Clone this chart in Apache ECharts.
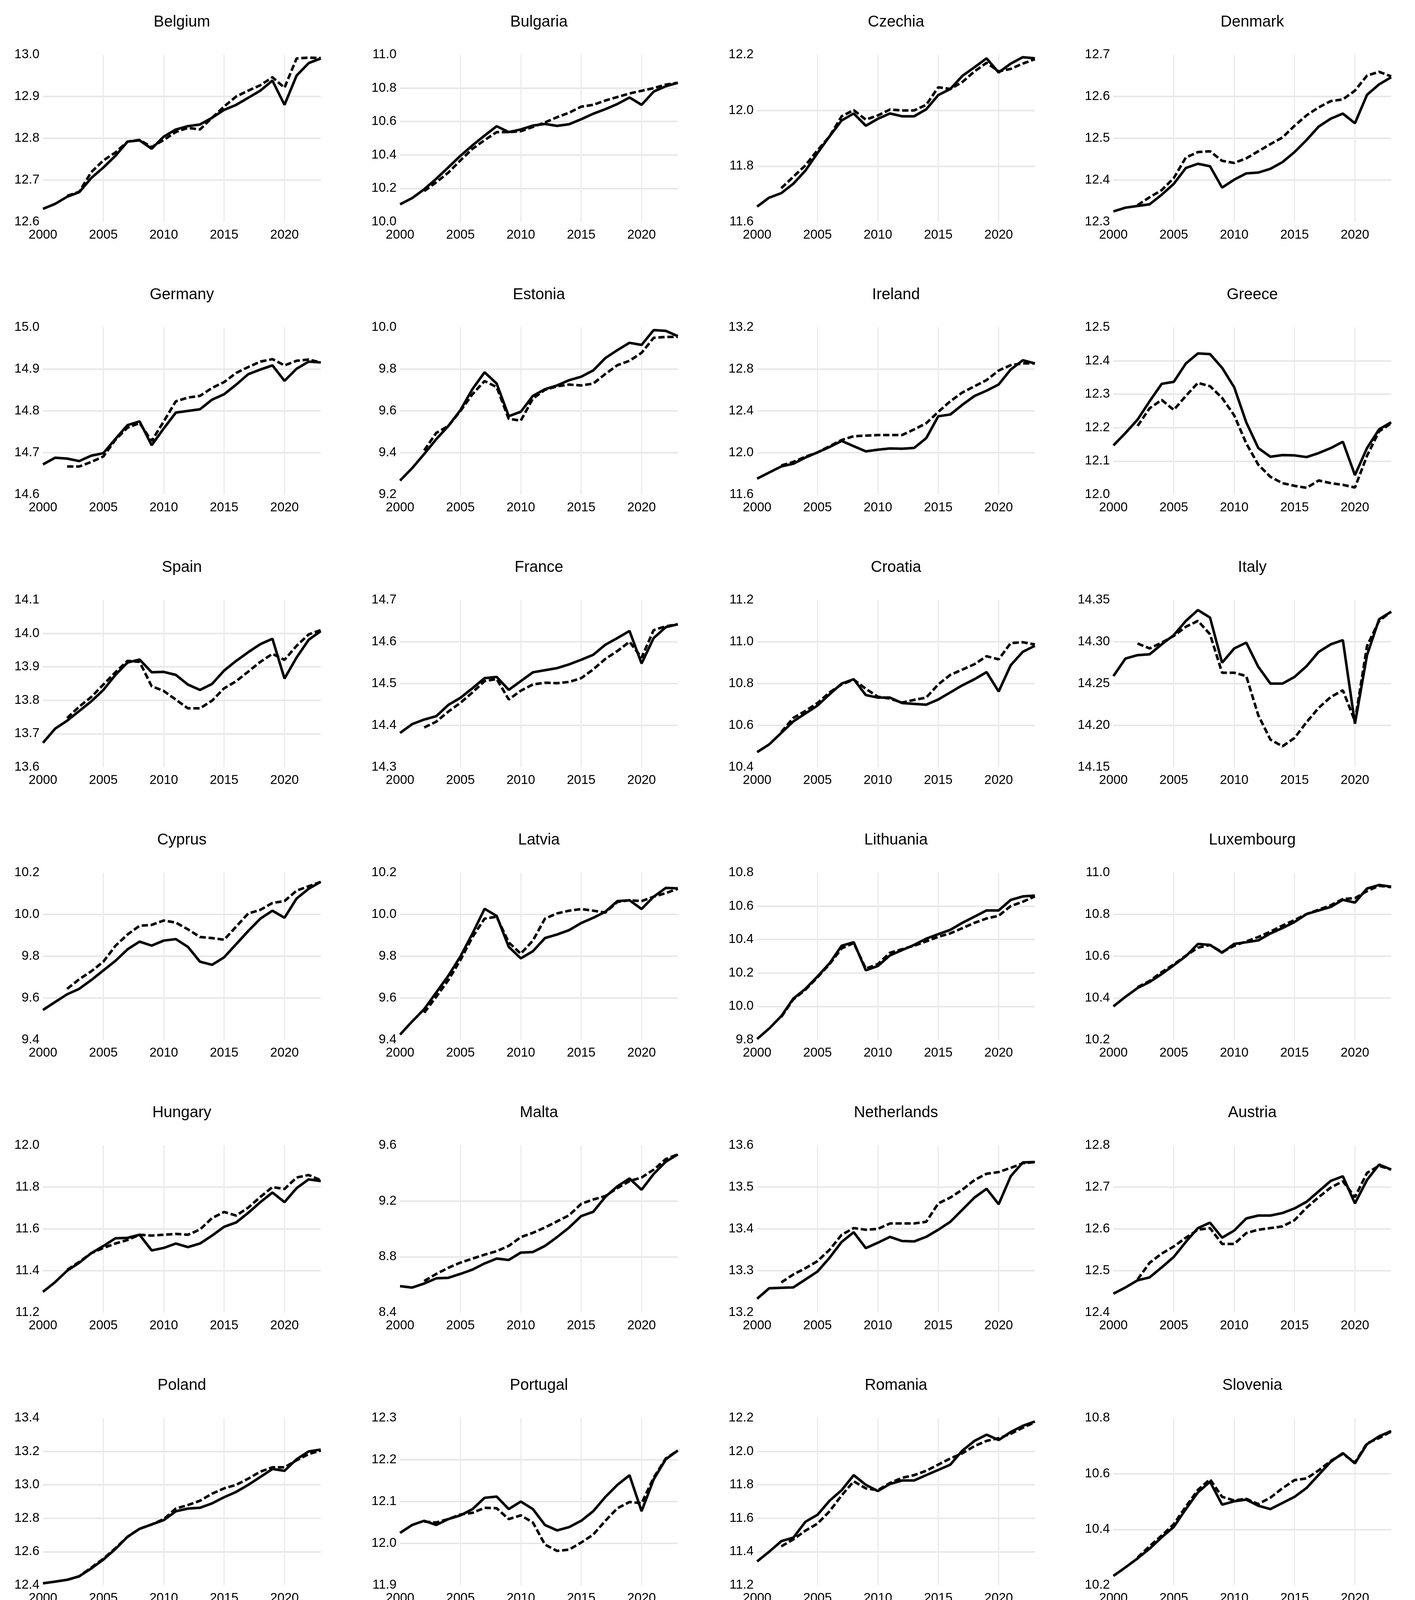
<!DOCTYPE html>
<html><head><meta charset="utf-8">
<script src="https://cdn.jsdelivr.net/npm/echarts@6.0.0/dist/echarts.min.js"></script>
<style>html,body{margin:0;padding:0;background:#fff}#c{width:3622px;height:4989px}</style>
</head><body><div id="c"></div>
<script>
// ---------------- DATA ----------------
const years = [2000,2001,2002,2003,2004,2005,2006,2007,2008,2009,2010,2011,2012,2013,2014,2015,2016,2017,2018,2019,2020,2021,2022,2023];
const countries = ['Belgium','Bulgaria','Czechia','Denmark','Germany','Estonia','Ireland','Greece','Spain','France','Croatia','Italy','Cyprus','Latvia','Lithuania','Luxembourg','Hungary','Malta','Netherlands','Austria','Poland','Portugal','Romania','Slovenia','Slovakia','Finland','Sweden'];
const yMin  = [12.6,10.0,11.6,12.3,14.6,9.2,11.6,12.0,13.6,14.3,10.4,14.15,9.4,9.4,9.8,10.2,11.2,8.4,13.2,12.4,12.4,11.9,11.2,10.2,10.6,11.9,12.6];
const yMax  = [13.0,11.0,12.2,12.7,15.0,10.0,13.2,12.5,14.1,14.7,11.2,14.35,10.2,10.2,10.8,11.0,12.0,9.6,13.6,12.8,13.4,12.3,12.2,10.8,11.6,12.3,13.2];
const yStep = [0.1,0.2,0.2,0.1,0.1,0.2,0.4,0.1,0.1,0.1,0.2,0.05,0.2,0.2,0.2,0.2,0.2,0.4,0.1,0.1,0.2,0.1,0.2,0.2,0.2,0.1,0.2];

const belgiumGdp  = [12.631,12.643,12.660,12.671,12.705,12.730,12.758,12.792,12.795,12.775,12.804,12.821,12.829,12.833,12.849,12.868,12.880,12.897,12.914,12.938,12.880,12.950,12.980,12.991];
const belgiumArdl = [null,null,12.662,12.672,12.719,12.747,12.766,12.792,12.796,12.779,12.796,12.815,12.825,12.821,12.849,12.876,12.900,12.914,12.927,12.946,12.921,12.991,12.993,12.992];
const bulgariaGdp  = [10.105,10.142,10.195,10.258,10.326,10.395,10.458,10.516,10.572,10.537,10.553,10.576,10.586,10.574,10.584,10.614,10.647,10.674,10.705,10.744,10.700,10.779,10.811,10.832];
const bulgariaArdl = [null,null,10.184,10.237,10.295,10.368,10.437,10.489,10.537,10.537,10.542,10.568,10.595,10.626,10.653,10.689,10.700,10.726,10.747,10.768,10.784,10.800,10.821,10.832];
const czechiaGdp  = [11.655,11.687,11.703,11.737,11.784,11.847,11.907,11.964,11.989,11.945,11.970,11.989,11.979,11.979,12.004,12.055,12.077,12.124,12.155,12.187,12.136,12.168,12.191,12.187];
const czechiaArdl = [null,null,11.721,11.762,11.803,11.857,11.907,11.979,12.001,11.967,11.982,12.003,12.000,12.000,12.020,12.083,12.077,12.102,12.140,12.171,12.140,12.149,12.168,12.184];
const denmarkGdp  = [12.325,12.334,12.338,12.342,12.365,12.391,12.429,12.439,12.433,12.382,12.401,12.416,12.418,12.427,12.443,12.467,12.496,12.528,12.547,12.559,12.536,12.604,12.629,12.646];
const denmarkArdl = [null,null,12.340,12.359,12.376,12.405,12.454,12.467,12.469,12.446,12.441,12.452,12.469,12.486,12.502,12.530,12.555,12.574,12.589,12.593,12.614,12.650,12.659,12.648];
const germanyGdp  = [14.672,14.688,14.686,14.680,14.693,14.699,14.733,14.766,14.775,14.718,14.758,14.796,14.800,14.804,14.827,14.840,14.863,14.888,14.899,14.909,14.872,14.901,14.918,14.916];
const germanyArdl = [null,null,14.667,14.667,14.678,14.691,14.731,14.760,14.771,14.728,14.775,14.823,14.832,14.836,14.855,14.869,14.891,14.905,14.918,14.924,14.909,14.920,14.923,14.916];
const estoniaGdp  = [9.267,9.326,9.394,9.465,9.528,9.604,9.705,9.785,9.731,9.575,9.596,9.672,9.704,9.722,9.747,9.764,9.794,9.853,9.891,9.926,9.916,9.987,9.983,9.958];
const estoniaArdl = [null,null,9.411,9.495,9.528,9.600,9.680,9.743,9.714,9.562,9.554,9.659,9.701,9.718,9.726,9.722,9.731,9.777,9.819,9.840,9.878,9.950,9.954,9.954];
const irelandGdp  = [11.752,11.811,11.869,11.895,11.954,12.003,12.055,12.113,12.063,12.013,12.029,12.041,12.038,12.046,12.139,12.349,12.366,12.459,12.543,12.594,12.653,12.796,12.885,12.855];
const irelandArdl = [null,null,11.878,11.912,11.962,12.003,12.063,12.122,12.158,12.164,12.169,12.169,12.169,12.223,12.282,12.391,12.493,12.577,12.636,12.695,12.787,12.838,12.855,12.855];
const greeceGdp  = [12.147,12.184,12.224,12.279,12.331,12.337,12.392,12.422,12.420,12.379,12.321,12.216,12.139,12.113,12.118,12.117,12.112,12.124,12.139,12.158,12.058,12.139,12.195,12.216];
const greeceArdl = [null,null,12.205,12.258,12.283,12.253,12.295,12.334,12.324,12.289,12.237,12.153,12.089,12.053,12.034,12.026,12.020,12.042,12.034,12.029,12.021,12.116,12.189,12.213];
const spainGdp  = [13.673,13.715,13.739,13.768,13.797,13.831,13.876,13.913,13.922,13.884,13.885,13.876,13.847,13.831,13.849,13.889,13.918,13.944,13.968,13.984,13.865,13.928,13.981,14.007];
const spainArdl = [null,null,13.747,13.781,13.810,13.847,13.884,13.918,13.915,13.842,13.828,13.802,13.776,13.776,13.799,13.836,13.857,13.886,13.915,13.939,13.921,13.963,13.997,14.010];
const franceGdp  = [14.382,14.403,14.414,14.422,14.449,14.466,14.489,14.513,14.516,14.485,14.506,14.527,14.532,14.537,14.546,14.557,14.569,14.593,14.609,14.626,14.548,14.609,14.635,14.642];
const franceArdl = [null,null,14.395,14.409,14.433,14.454,14.479,14.506,14.511,14.462,14.483,14.498,14.502,14.501,14.504,14.513,14.534,14.559,14.578,14.600,14.562,14.628,14.637,14.642];
const croatiaGdp  = [10.472,10.509,10.564,10.619,10.657,10.695,10.749,10.800,10.821,10.745,10.733,10.733,10.707,10.703,10.699,10.724,10.758,10.792,10.821,10.855,10.762,10.888,10.952,10.981];
const croatiaArdl = [null,null,10.568,10.636,10.669,10.707,10.758,10.796,10.819,10.775,10.737,10.728,10.709,10.722,10.733,10.796,10.842,10.867,10.893,10.931,10.916,10.994,10.998,10.987];
const italyGdp  = [14.259,14.280,14.284,14.285,14.297,14.308,14.325,14.338,14.329,14.275,14.292,14.299,14.270,14.250,14.250,14.258,14.271,14.288,14.297,14.302,14.202,14.284,14.327,14.336];
const italyArdl = [null,null,14.298,14.292,14.299,14.307,14.318,14.325,14.309,14.263,14.263,14.259,14.212,14.183,14.175,14.185,14.204,14.221,14.234,14.242,14.205,14.295,14.325,14.336];
const cyprusGdp  = [9.543,9.581,9.618,9.644,9.686,9.732,9.778,9.833,9.870,9.851,9.875,9.882,9.845,9.774,9.759,9.795,9.858,9.921,9.980,10.018,9.984,10.076,10.123,10.156];
const cyprusArdl = [null,null,9.644,9.690,9.728,9.774,9.850,9.904,9.946,9.950,9.971,9.961,9.929,9.892,9.887,9.879,9.942,10.005,10.022,10.055,10.064,10.114,10.135,10.156];
const latviaGdp  = [9.425,9.488,9.547,9.627,9.707,9.799,9.909,10.027,9.993,9.845,9.790,9.824,9.887,9.904,9.925,9.959,9.984,10.013,10.064,10.068,10.026,10.085,10.127,10.125];
const latviaArdl = [null,null,9.530,9.606,9.686,9.782,9.892,9.980,9.989,9.866,9.812,9.875,9.980,10.005,10.018,10.026,10.018,10.009,10.060,10.068,10.064,10.085,10.102,10.123];
const lithuaniaGdp  = [9.805,9.868,9.942,10.047,10.105,10.179,10.258,10.363,10.384,10.216,10.242,10.305,10.337,10.368,10.405,10.432,10.458,10.500,10.537,10.574,10.574,10.637,10.658,10.663];
const lithuaniaArdl = [null,null,9.937,10.042,10.100,10.174,10.253,10.347,10.379,10.226,10.253,10.321,10.342,10.363,10.389,10.416,10.437,10.468,10.500,10.526,10.542,10.600,10.626,10.658];
const luxembourgGdp  = [10.360,10.406,10.448,10.477,10.515,10.557,10.600,10.659,10.654,10.617,10.659,10.667,10.676,10.709,10.735,10.764,10.802,10.819,10.836,10.870,10.857,10.924,10.941,10.933];
const luxembourgArdl = [null,null,10.452,10.482,10.524,10.561,10.603,10.641,10.654,10.620,10.650,10.671,10.692,10.718,10.747,10.773,10.802,10.823,10.844,10.874,10.878,10.912,10.937,10.931];
const hungaryGdp  = [11.299,11.345,11.400,11.438,11.484,11.518,11.555,11.557,11.572,11.497,11.509,11.530,11.513,11.530,11.568,11.610,11.631,11.677,11.728,11.774,11.728,11.795,11.837,11.829];
const hungaryArdl = [null,null,11.404,11.442,11.484,11.509,11.530,11.547,11.572,11.568,11.572,11.576,11.572,11.597,11.652,11.681,11.664,11.702,11.753,11.800,11.791,11.846,11.858,11.833];
const maltaGdp  = [8.589,8.579,8.608,8.645,8.649,8.677,8.708,8.752,8.787,8.777,8.830,8.834,8.878,8.941,9.010,9.092,9.123,9.230,9.306,9.362,9.281,9.394,9.482,9.535];
const maltaArdl = [null,null,8.626,8.677,8.721,8.758,8.787,8.815,8.840,8.878,8.941,8.972,9.010,9.054,9.098,9.180,9.211,9.236,9.293,9.343,9.369,9.425,9.501,9.535];
const netherlandsGdp  = [13.233,13.258,13.259,13.260,13.279,13.298,13.331,13.369,13.392,13.354,13.367,13.381,13.371,13.370,13.381,13.398,13.417,13.446,13.475,13.496,13.459,13.526,13.559,13.560];
const netherlandsArdl = [null,null,13.272,13.291,13.306,13.323,13.350,13.386,13.402,13.398,13.400,13.413,13.413,13.413,13.417,13.461,13.475,13.494,13.517,13.532,13.536,13.546,13.557,13.560];
const austriaGdp  = [12.445,12.460,12.477,12.484,12.508,12.533,12.569,12.602,12.615,12.579,12.596,12.625,12.632,12.632,12.638,12.649,12.665,12.690,12.715,12.726,12.661,12.717,12.754,12.742];
const austriaArdl = [null,null,12.479,12.519,12.541,12.558,12.579,12.598,12.602,12.564,12.564,12.590,12.598,12.602,12.606,12.621,12.651,12.676,12.699,12.714,12.676,12.734,12.751,12.742];
const polandGdp  = [12.411,12.421,12.432,12.453,12.500,12.553,12.616,12.689,12.737,12.763,12.789,12.842,12.858,12.863,12.889,12.926,12.958,13.000,13.047,13.095,13.084,13.153,13.200,13.211];
const polandArdl = [null,null,12.432,12.453,12.505,12.558,12.621,12.689,12.737,12.763,12.795,12.858,12.879,12.905,12.947,12.979,13.000,13.037,13.079,13.105,13.105,13.147,13.184,13.205];
const portugalGdp  = [12.025,12.044,12.054,12.044,12.058,12.067,12.082,12.109,12.112,12.082,12.100,12.082,12.044,12.031,12.039,12.054,12.077,12.111,12.140,12.163,12.077,12.153,12.201,12.222];
const portugalArdl = [null,null,12.052,12.050,12.058,12.069,12.073,12.085,12.084,12.058,12.067,12.050,11.997,11.982,11.985,12.002,12.021,12.054,12.084,12.099,12.096,12.157,12.203,12.222];
const romaniaGdp  = [11.342,11.400,11.463,11.484,11.579,11.621,11.705,11.768,11.858,11.800,11.763,11.805,11.826,11.826,11.858,11.889,11.921,12.005,12.063,12.100,12.068,12.116,12.153,12.179];
const romaniaArdl = [null,null,11.432,11.474,11.526,11.568,11.642,11.737,11.821,11.779,11.768,11.811,11.842,11.858,11.884,11.921,11.958,11.989,12.032,12.063,12.079,12.105,12.142,12.174];
const sloveniaGdp  = [10.233,10.264,10.296,10.331,10.372,10.409,10.473,10.533,10.571,10.489,10.501,10.507,10.485,10.473,10.495,10.517,10.549,10.596,10.643,10.674,10.637,10.706,10.734,10.753];
const sloveniaArdl = [null,null,10.299,10.340,10.378,10.419,10.482,10.542,10.580,10.517,10.504,10.510,10.491,10.514,10.548,10.577,10.583,10.612,10.646,10.671,10.640,10.709,10.728,10.751];
const slovakiaGdp  = [10.644,10.675,10.711,10.758,10.813,10.868,10.946,11.071,11.128,11.071,11.133,11.165,11.177,11.191,11.213,11.260,11.281,11.306,11.342,11.369,11.336,11.378,11.399,11.415];
const slovakiaArdl = [null,null,10.743,10.784,10.836,10.904,10.978,11.066,11.107,11.081,11.122,11.159,11.165,11.185,11.212,11.280,11.290,11.311,11.342,11.358,11.332,11.364,11.384,11.410];
const finlandGdp  = [11.967,11.996,12.013,12.031,12.071,12.098,12.138,12.190,12.196,12.110,12.140,12.169,12.154,12.146,12.141,12.148,12.175,12.206,12.217,12.229,12.208,12.238,12.250,12.235];
const finlandArdl = [null,null,11.990,12.021,12.052,12.069,12.077,12.123,12.121,12.052,12.071,12.094,12.096,12.079,12.077,12.088,12.154,12.190,12.202,12.203,12.204,12.233,12.246,12.236];
const swedenGdp  = [12.619,12.631,12.650,12.672,12.694,12.729,12.776,12.823,12.820,12.779,12.836,12.865,12.861,12.874,12.899,12.940,12.959,12.981,13.003,13.022,13.003,13.063,13.101,13.091];
const swedenArdl = [null,null,12.653,12.676,12.701,12.736,12.786,12.827,12.830,12.789,12.833,12.861,12.865,12.877,12.906,12.962,12.991,13.016,13.028,13.028,13.031,13.069,13.097,13.091];

const meanTickLabels = ['00','01','02','03','04','05','06','07','08','09','10','11','12','13','14','15','16','17','18','19','20','21','22','23'];
const meanGdp  = [11.604,11.632,11.663,11.694,11.735,11.776,11.828,11.878,11.891,11.836,11.853,11.868,11.867,11.868,11.891,11.925,11.950,11.994,12.022,12.051,12.005,12.076,12.112,12.118];
const meanArdl = [null,null,11.666,11.702,11.740,11.781,11.825,11.871,11.889,11.850,11.856,11.876,11.878,11.889,11.909,11.940,11.963,11.996,12.017,12.040,12.040,12.089,12.111,12.118];

const gdpList  = [belgiumGdp,bulgariaGdp,czechiaGdp,denmarkGdp,germanyGdp,estoniaGdp,irelandGdp,greeceGdp,spainGdp,franceGdp,croatiaGdp,italyGdp,cyprusGdp,latviaGdp,lithuaniaGdp,luxembourgGdp,hungaryGdp,maltaGdp,netherlandsGdp,austriaGdp,polandGdp,portugalGdp,romaniaGdp,sloveniaGdp,slovakiaGdp,finlandGdp,swedenGdp];
const ardlList = [belgiumArdl,bulgariaArdl,czechiaArdl,denmarkArdl,germanyArdl,estoniaArdl,irelandArdl,greeceArdl,spainArdl,franceArdl,croatiaArdl,italyArdl,cyprusArdl,latviaArdl,lithuaniaArdl,luxembourgArdl,hungaryArdl,maltaArdl,netherlandsArdl,austriaArdl,polandArdl,portugalArdl,romaniaArdl,sloveniaArdl,slovakiaArdl,finlandArdl,swedenArdl];

// ---------------- LAYOUT ----------------
const COL_LEFT = [110, 1024, 1938, 2850];
const ROW_TOP = [140, 838, 1536, 2234, 2932, 3630, 4328];
const PW = 711, PH = 428;
const FONT = "'Liberation Sans', Arial, sans-serif";
const NARROW = "'DejaVu Sans Condensed', 'Roboto Condensed', 'Liberation Sans', sans-serif";
const GRID_H = '#e8e8e8', GRID_V = '#ebebeb';

function pairs(arr) {
  const out = [];
  years.forEach((y, j) => { if (arr[j] !== null) out.push([y, arr[j]]); });
  return out;
}

const grid = [], xAxis = [], yAxis = [], series = [], title = [];
countries.forEach((name, i) => {
  const r = Math.floor(i / 4), c = i % 4;
  const left = COL_LEFT[c], top = ROW_TOP[r];
  const dec = yStep[i] < 0.1 ? 2 : 1;
  grid.push({ left, top, width: PW, height: PH, containLabel: false });
  xAxis.push({
    type: 'value', gridIndex: i, min: years[0], max: years[years.length - 1], interval: 5,
    axisLine: { show: false }, axisTick: { show: false },
    axisLabel: { showMaxLabel: false, margin: 17, fontSize: 33, color: '#000', fontFamily: FONT, formatter: v => String(v) },
    splitLine: { show: true, showMinLine: false, showMaxLine: false, lineStyle: { color: GRID_V, width: 3 } }
  });
  yAxis.push({
    type: 'value', gridIndex: i, min: yMin[i], max: yMax[i], interval: yStep[i],
    axisLine: { show: false }, axisTick: { show: false },
    axisLabel: { margin: 9, fontSize: 33, color: '#000', fontFamily: FONT, formatter: v => v.toFixed(dec) },
    splitLine: { show: true, showMinLine: false, showMaxLine: false, lineStyle: { color: GRID_H, width: 4 } }
  });
  series.push({
    name: 'LN_GDP', type: 'line', xAxisIndex: i, yAxisIndex: i, data: pairs(gdpList[i]),
    symbol: 'none', silent: true, z: 3,
    lineStyle: { color: '#000', width: 6.5, type: 'solid' }, itemStyle: { color: '#000' }
  });
  series.push({
    name: 'LN_GDPF_ARDL', type: 'line', xAxisIndex: i, yAxisIndex: i, data: pairs(ardlList[i]),
    symbol: 'none', silent: true, z: 2,
    lineStyle: { color: '#000', width: 6.5, type: [16, 7] }, itemStyle: { color: '#000' }
  });
  title.push({
    text: name, left: left + PW / 2, top: top - 103, textAlign: 'center', padding: 0,
    textStyle: { fontSize: 40, fontWeight: 'normal', color: '#000', fontFamily: FONT }
  });
});

// Mean panel
const mi = countries.length;
const M_LEFT = 2713, M_TOP = 4251, M_W = 841, M_H = 552;
grid.push({ left: M_LEFT, top: M_TOP, width: M_W, height: M_H, containLabel: false });
xAxis.push({
  type: 'category', gridIndex: mi, data: meanTickLabels, boundaryGap: true,
  axisLine: { show: false }, axisTick: { show: false },
  axisLabel: { interval: 1, margin: 16, fontSize: 27, color: '#000', fontFamily: NARROW },
  splitLine: { show: true, interval: 3, showMinLine: false, showMaxLine: false, lineStyle: { color: GRID_V, width: 2 } }
});
yAxis.push({
  type: 'value', gridIndex: mi, min: 11.6, max: 12.2, interval: 0.1,
  axisLine: { show: false }, axisTick: { show: false },
  axisLabel: { margin: 10, fontSize: 26, color: '#000', fontFamily: NARROW, formatter: v => v.toFixed(1) },
  splitLine: { show: true, showMinLine: false, showMaxLine: false, lineStyle: { color: GRID_H, width: 2 } }
});
series.push({
  name: 'Mean LN_GDP', type: 'line', xAxisIndex: mi, yAxisIndex: mi, data: meanGdp,
  symbol: 'none', silent: true, z: 3, lineStyle: { color: '#000', width: 2.5 }, itemStyle: { color: '#000' }
});
series.push({
  name: 'Mean LN_GDPF_ARDL', type: 'line', xAxisIndex: mi, yAxisIndex: mi, data: meanArdl,
  symbol: 'none', silent: true, z: 2, lineStyle: { color: '#000', width: 2.5, type: [8, 4] }, itemStyle: { color: '#000' }
});
title.push({
  text: 'GDP growth in EU countries over the period 2000-2023', left: 3136, top: 4169, textAlign: 'center', padding: 0,
  textStyle: { fontSize: 23, fontWeight: 'bold', color: '#000', fontFamily: NARROW }
});

const hiddenIcon = { color: 'rgba(0,0,0,0)', borderColor: 'rgba(0,0,0,0)', borderWidth: 0, opacity: 0 };
const option = {
  backgroundColor: '#fff',
  animation: false,
  title, grid, xAxis, yAxis, series,
  legend: [
    {
      data: ['LN_GDP', 'LN_GDPF_ARDL'], left: 1595, top: 4893, orient: 'horizontal',
      itemWidth: 62, itemHeight: 20, itemGap: 18, padding: [29, 12, 29, 12],
      borderColor: '#e6e6e6', borderWidth: 4, selectedMode: false,
      textStyle: { fontSize: 28, color: '#000', fontFamily: NARROW },
      lineStyle: { width: 8 }, itemStyle: hiddenIcon
    },
    {
      data: ['Mean LN_GDP', 'Mean LN_GDPF_ARDL'], left: 2880, top: 4892, orient: 'horizontal',
      itemWidth: 46, itemHeight: 16, itemGap: 22, padding: [31, 14, 31, 10],
      borderColor: '#e6e6e6', borderWidth: 3, selectedMode: false,
      textStyle: { fontSize: 22, color: '#000', fontFamily: NARROW },
      lineStyle: { width: 2 }, itemStyle: hiddenIcon
    }
  ]
};

const chart = echarts.init(document.getElementById('c'), null, { renderer: 'canvas', width: 3622, height: 4989 });
chart.setOption(option);
</script>
</body></html>
